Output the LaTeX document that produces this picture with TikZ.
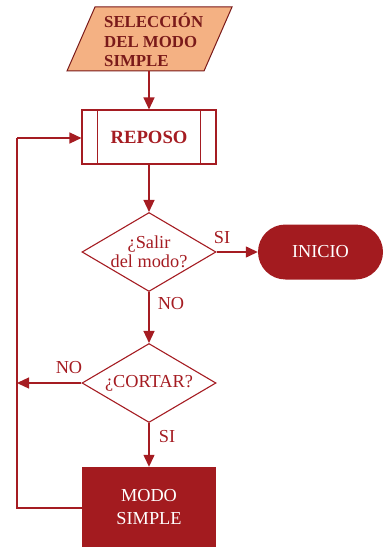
\documentclass[tikz,border=0pt]{standalone}
\usepackage{fontspec}
\setmainfont{Liberation Serif}
\usetikzlibrary{shapes.geometric,arrows.meta}
\definecolor{dred}{HTML}{A51C22}
\definecolor{fillred}{HTML}{A31B1F}
\definecolor{orng}{HTML}{F4B183}
\definecolor{brownred}{HTML}{7A1A1A}
\begin{document}
\begin{tikzpicture}[x=1pt,y=-1pt,
  conn/.style={draw=dred,line width=1.3pt,-{Triangle[length=12pt,width=11pt]}},
  plain/.style={draw=dred,line width=1.3pt},
  decbox/.style={diamond,draw=dred,line width=1.1pt,aspect=1.7,inner sep=0pt,
    minimum width=134pt,minimum height=79pt,text=dred,align=center,
    font=\fontsize{18.3}{19.5}\selectfont},
  lbl/.style={text=dred,font=\fontsize{18.3}{20}\selectfont,inner sep=0pt}]
\useasboundingbox (0,0) rectangle (384,548);
% input parallelogram
\draw[fill=orng,draw=brownred,line width=1pt] (95,7) -- (232,7) -- (204,71) -- (67,71) -- cycle;
\node[anchor=west,align=left,text=brownred,inner sep=0pt,
  font=\fontsize{16.8}{19.5}\selectfont\bfseries] (sel) at (104,40) {SELECCIÓN\\DEL MODO\\SIMPLE};
\coordinate (selb) at (149,71);
% reposo
\node[draw=dred,line width=1.1pt,minimum width=134pt,minimum height=54pt,inner sep=0pt,
  text=dred,font=\fontsize{18.7}{20}\selectfont\bfseries] (rep) at (149,137) {REPOSO};
\draw[dred,line width=1.1pt] ([xshift=16pt]rep.north west) -- ([xshift=16pt]rep.south west);
\draw[dred,line width=1.1pt] ([xshift=-16pt]rep.north east) -- ([xshift=-16pt]rep.south east);
% decision 1
\node[decbox] (d1) at (149,252) {¿Salir\\del modo?};
% inicio
\node[fill=fillred,rounded corners=27.5pt,minimum width=125pt,minimum height=55pt,inner sep=0pt,
  text=white,font=\fontsize{18.3}{20}\selectfont] (ini) at (320.5,252) {INICIO};
% decision 2
\node[decbox] (d2) at (149,383) {¿CORTAR?};
% modo simple
\node[fill=fillred,minimum width=134pt,minimum height=80pt,inner sep=0pt,align=center,
  text=white,font=\fontsize{18.3}{23}\selectfont] (ms) at (149,507) {MODO\\SIMPLE};
% loop coordinates
\coordinate (lb) at (17,508);
\coordinate (lt) at (17,138);
\coordinate (lm) at (17,383);
% connectors
\draw[conn] (selb) -- (rep.north);
\draw[conn] (rep.south) -- (d1.north);
\draw[conn] (d1.east) -- (ini.west);
\draw[conn] (d1.south) -- (d2.north);
\draw[conn] (d2.south) -- (ms.north);
\draw[conn] (d2.west) -- (lm);
\draw[plain] (ms.west |- lb) -- (lb) -- (lt);
\draw[conn] (lt) -- (rep.west |- lt);
% labels
\node[lbl] (si1) at (222,238) {SI};
\node[lbl] (no1) at (171,304) {NO};
\node[lbl] (no2) at (69,368) {NO};
\node[lbl] (si2) at (167,437) {SI};
\end{tikzpicture}
\end{document}
